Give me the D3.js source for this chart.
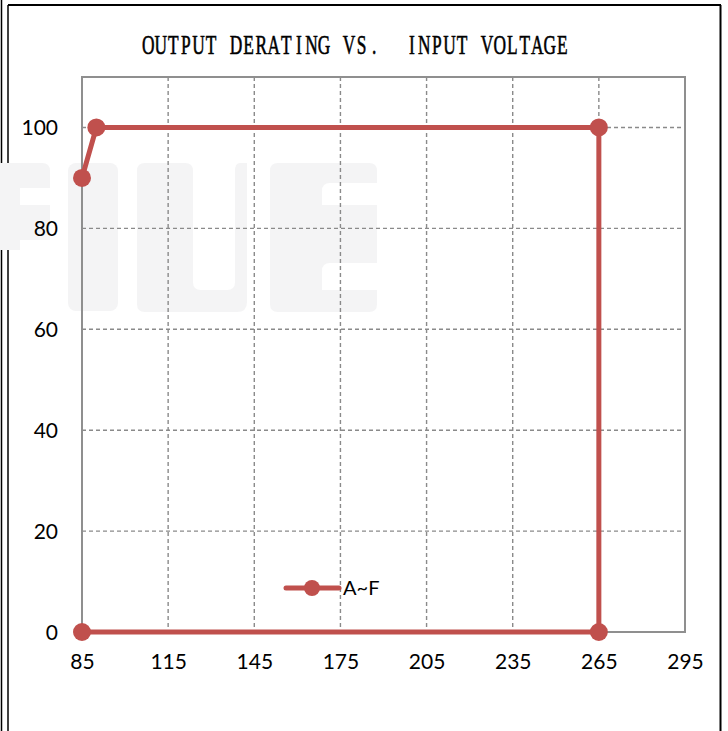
<!DOCTYPE html>
<html>
  <head>
    <script type="text/javascript" src="https://cdn.jsdelivr.net/npm/d3@7/dist/d3.min.js"></script>
    <style>
      body { margin: 0; background: #fff; }
    </style>
  </head>
  <body>
    <div id="viz"></div>
    <script type="text/javascript">
      // data
      const voltages = [85, 90, 265, 265, 85];
      const loads = [90, 100, 100, 0, 0];
      const xTicks = [85, 115, 145, 175, 205, 235, 265, 295];
      const yTicks = [0, 20, 40, 60, 80, 100];
      const seriesName = "A~F";
      const title = "OUTPUT DERATING VS.  INPUT VOLTAGE";

      const width = 728;
      const height = 731;
      const red = "#C0504D";
      const gridColor = "#8a8a8a";

      const svg = d3.select("#viz")
        .append("svg")
        .attr("width", width)
        .attr("height", height);

      // page frame
      const frame = svg.append("g").attr("fill", "none").attr("stroke", "#000");
      frame.append("line").attr("x1", 1.5).attr("x2", 1.5).attr("y1", 0).attr("y2", height).attr("stroke-width", 1.5);
      frame.append("line").attr("x1", 8).attr("x2", 8).attr("y1", 5).attr("y2", height).attr("stroke-width", 1.5);
      frame.append("line").attr("x1", 8).attr("x2", 721).attr("y1", 5).attr("y2", 5).attr("stroke-width", 2);
      frame.append("line").attr("x1", 720.5).attr("x2", 720.5).attr("y1", 5).attr("y2", height).attr("stroke-width", 2);

      // faint watermark
      const wm = svg.append("g").attr("fill", "#f4f4f5");
      wm.append("path").attr("d", "M-20,163 H42 Q50,163 50,171 V188 H20 V205 H50 V240 H20 V250 H-20 Z");
      wm.append("rect").attr("x", 68).attr("y", 163).attr("width", 50).attr("height", 148).attr("rx", 8);
      wm.append("path").attr("d", "M145,163 H185 Q193,163 193,171 V282 Q193,290 201,290 H227 Q235,290 235,282 V171 Q235,163 240,163 H247 V302 Q247,312 237,312 H145 Q137,312 137,304 V171 Q137,163 145,163 Z");
      wm.append("path").attr("d", "M278,163 H369 Q377,163 377,171 V183 H330 Q322,183 322,191 V205 H377 V263 H330 Q322,263 322,271 V290 H377 V304 Q377,312 369,312 H278 Q270,312 270,304 V171 Q270,163 278,163 Z");

      const x = d3.scaleLinear().domain([85, 295]).range([82, 685]);
      const y = d3.scaleLinear().domain([0, 110]).range([632, 77]);

      // grid
      const grid = svg.append("g").attr("stroke", gridColor).attr("stroke-width", 1.4).attr("stroke-dasharray", "4,3");
      grid.selectAll("line.v")
        .data(xTicks.slice(1, -1))
        .enter().append("line")
        .attr("class", "v")
        .attr("x1", d => x(d)).attr("x2", d => x(d))
        .attr("y1", y(110)).attr("y2", y(0));
      grid.selectAll("line.h")
        .data(yTicks.slice(1))
        .enter().append("line")
        .attr("class", "h")
        .attr("x1", x(85)).attr("x2", x(295))
        .attr("y1", d => y(d)).attr("y2", d => y(d));

      // plot border
      svg.append("rect")
        .attr("x", x(85)).attr("y", y(110))
        .attr("width", x(295) - x(85)).attr("height", y(0) - y(110))
        .attr("fill", "none").attr("stroke", "#8f8f8f").attr("stroke-width", 2);

      // axes labels
      const xAxis = d3.axisBottom(x).tickValues(xTicks).tickSize(0).tickPadding(22);
      const gx = svg.append("g").attr("transform", "translate(0," + y(0) + ")").call(xAxis);
      const yAxis = d3.axisLeft(y).tickValues(yTicks).tickSize(0).tickPadding(24);
      const gy = svg.append("g").attr("transform", "translate(" + x(85) + ",0)").call(yAxis);
      [gx, gy].forEach(g => {
        g.select(".domain").remove();
        g.selectAll("text")
          .attr("font-family", "Lato, 'Open Sans', sans-serif")
          .attr("font-size", 21)
          .attr("fill", "#000");
      });
      gx.selectAll("text").attr("dy", "0.71em").attr("y", 22);
      gy.selectAll("text").attr("dy", "0.35em");

      // series
      const pts = voltages.map((v, i) => [v, loads[i]]);
      const line = d3.line().x(d => x(d[0])).y(d => y(d[1]));
      svg.append("path")
        .datum(pts)
        .attr("d", line)
        .attr("fill", "none")
        .attr("stroke", red)
        .attr("stroke-width", 5)
        .attr("stroke-linejoin", "round");
      svg.selectAll("circle.pt")
        .data(pts)
        .enter().append("circle")
        .attr("class", "pt")
        .attr("cx", d => x(d[0]))
        .attr("cy", d => y(d[1]))
        .attr("r", 9)
        .attr("fill", red);

      // legend
      const lg = svg.append("g").attr("transform", "translate(286,588)");
      lg.append("line").attr("x1", 0).attr("x2", 53).attr("y1", 0).attr("y2", 0)
        .attr("stroke", red).attr("stroke-width", 5).attr("stroke-linecap", "round");
      lg.append("circle").attr("cx", 26).attr("cy", 0).attr("r", 8).attr("fill", red);
      lg.append("text").attr("x", 57).attr("y", 0).attr("dy", "0.35em")
        .attr("font-family", "Lato, 'Open Sans', sans-serif").attr("font-size", 20)
        .text(seriesName);

      // title: monospaced serif look, each glyph centred in a fixed cell
      const cell = 12.55, sx = 0.62, left = 142;
      svg.append("text")
        .attr("transform", "translate(0,54) scale(" + sx + ",1)")
        .attr("font-family", "'Liberation Serif', serif")
        .attr("font-size", 28)
        .attr("text-anchor", "middle")
        .attr("stroke", "#000")
        .attr("stroke-width", 0.6)
        .selectAll("tspan")
        .data(title.split(""))
        .enter().append("tspan")
        .attr("x", (d, i) => (left + cell * (i + 0.5)) / sx)
        .attr("y", 0)
        .text(d => d === " " ? "\u00a0" : d);
    </script>
  </body>
</html>
